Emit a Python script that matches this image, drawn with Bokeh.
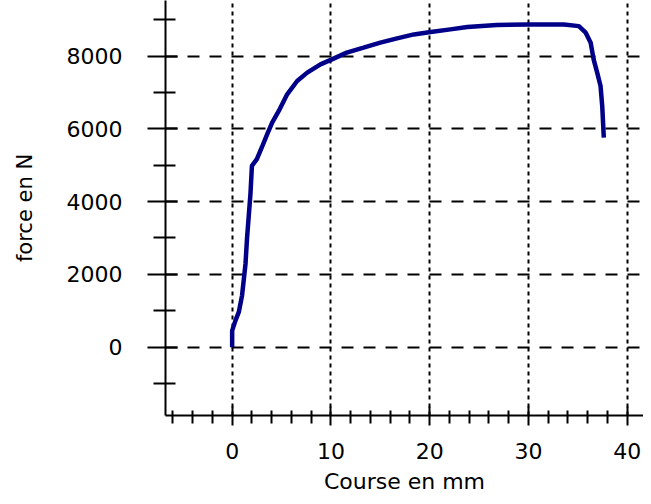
from bokeh.plotting import figure
from bokeh.models import FixedTicker, Range1d
from bokeh.embed import file_html
from bokeh.resources import INLINE

# Data (Course en mm, force en N)
course_mm = [0.0, 0.0, 0.33, 0.67, 1.0, 1.35, 1.5, 1.85, 2.0, 2.5, 3.0, 3.55,
             4.05, 4.72, 5.57, 6.58, 7.6, 8.94, 10.1, 11.6, 13.3, 15.0, 16.7,
             18.4, 20.1, 22.1, 23.8, 26.8, 29.9, 32.2, 33.6, 35.1, 35.8, 36.3,
             36.6, 36.96, 37.3, 37.47, 37.63]
force_n = [0, 455, 730, 960, 1416, 2285, 2971, 4206, 4982, 5166, 5487, 5852,
           6173, 6491, 6949, 7314, 7545, 7772, 7909, 8093, 8230, 8368, 8486,
           8595, 8659, 8733, 8796, 8851, 8870, 8870, 8865, 8823, 8642, 8368,
           7909, 7545, 7177, 6628, 5761]

x_major = [0, 10, 20, 30, 40]
x_minor = [-6, -4, -2, 2, 4, 6, 8, 12, 14, 16, 18, 22, 24, 26, 28, 32, 34, 36, 38]
y_major = [0, 2000, 4000, 6000, 8000]
y_minor = [-1000, 1000, 3000, 5000, 7000, 9000]

x_label = "Course en mm"
y_label = "force en N"

FONT = "DejaVu Sans"

p = figure(width=643, height=496, output_backend="svg", toolbar_location=None,
           x_range=Range1d(-6.75, 41.65), y_range=Range1d(-1879, 9527),
           min_border_left=165, min_border_bottom=79, min_border_top=0,
           min_border_right=0)
p.title.visible = False
p.outline_line_color = None
p.background_fill_color = "white"
p.border_fill_color = "white"

p.line(course_mm, force_n, line_color="#000088", line_width=4.5)

# axes
p.xaxis.ticker = FixedTicker(ticks=x_major, minor_ticks=x_minor)
p.yaxis.ticker = FixedTicker(ticks=y_major, minor_ticks=y_minor)
for ax in (p.xaxis[0], p.yaxis[0]):
    ax.axis_line_color = "black"
    ax.axis_line_width = 2
    ax.major_tick_line_color = "black"
    ax.major_tick_line_width = 2
    ax.minor_tick_line_color = "black"
    ax.minor_tick_line_width = 2
    ax.major_label_text_font = FONT
    ax.major_label_text_font_size = "22px"
    ax.major_label_text_color = "black"
    ax.axis_label_text_font = FONT
    ax.axis_label_text_font_style = "normal"
    ax.axis_label_text_color = "black"

p.yaxis.axis_label = y_label
p.yaxis.axis_label_text_font_size = "21px"
p.yaxis.major_tick_out = 18
p.yaxis.major_tick_in = 12
p.yaxis.minor_tick_out = 12
p.yaxis.minor_tick_in = 10
p.yaxis.major_label_standoff = 25
p.yaxis.axis_label_standoff = 27

p.xaxis.axis_label = x_label
p.xaxis.axis_label_text_font_size = "22px"
p.xaxis.major_tick_out = 10
p.xaxis.major_tick_in = 9
p.xaxis.minor_tick_out = 8
p.xaxis.minor_tick_in = 5
p.xaxis.major_label_standoff = 17
p.xaxis.axis_label_standoff = 7

# grid
p.xgrid.ticker = FixedTicker(ticks=x_major)
p.ygrid.ticker = FixedTicker(ticks=y_major)
p.xgrid.grid_line_color = "black"
p.xgrid.grid_line_width = 2
p.xgrid.grid_line_dash = "4 4"
p.ygrid.grid_line_color = "black"
p.ygrid.grid_line_width = 2
p.ygrid.grid_line_dash = "12 10"

open("out.html", "w").write(file_html(p, INLINE))
